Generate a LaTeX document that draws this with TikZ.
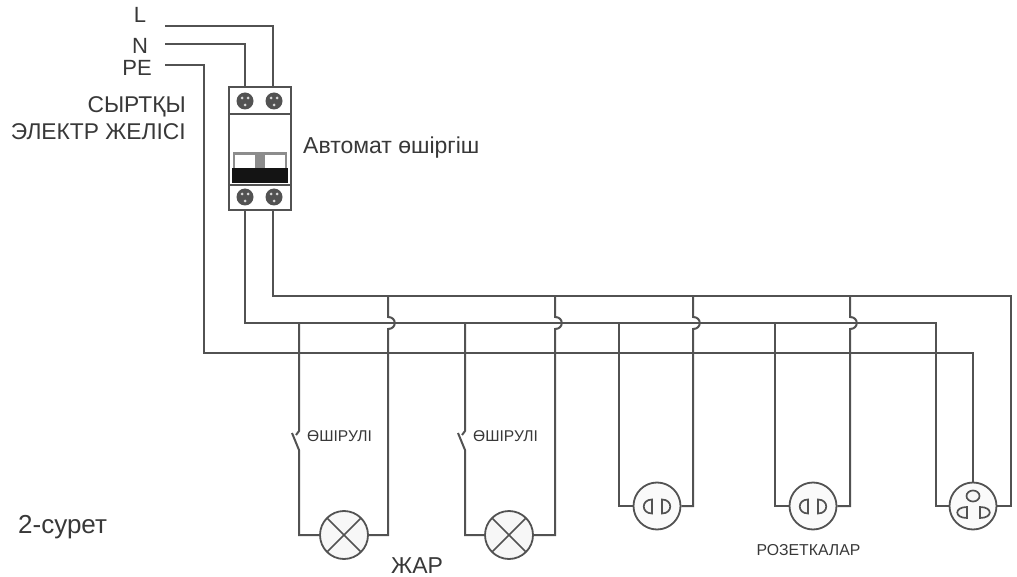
\documentclass[tikz,border=0pt]{standalone}
\usepackage{fontspec}
\setmainfont{Liberation Sans}
\begin{document}
\begin{tikzpicture}[x=1pt,y=-1pt,
  wire/.style={draw=black!68,line width=2pt,line join=miter},
  thin wire/.style={draw=black!68,line width=1.6pt},
  lbl/.style={text=black!78,inner sep=0pt,font=\fontsize{#1}{#1}\selectfont},
  lamp/.style={circle,draw=black!68,line width=1.8pt,minimum size=48pt,inner sep=0pt,fill=black!3,
    path picture={\draw[black!68,line width=1.6pt]
      ([shift={(5pt,-5pt)}]path picture bounding box.north west)--([shift={(-5pt,5pt)}]path picture bounding box.south east)
      ([shift={(-5pt,-5pt)}]path picture bounding box.north east)--([shift={(5pt,5pt)}]path picture bounding box.south west);}},
  sock/.style={circle,draw=black!68,line width=1.8pt,minimum size=47pt,inner sep=0pt,fill=black!2},
  term/.style={circle,fill=black!68,minimum size=17pt,inner sep=0pt},
  screw/.style={circle,fill=black!15,minimum size=3pt,inner sep=0pt},
  hold/.style={draw=black!68,line width=1.7pt,fill=black!3}]
\useasboundingbox (0,0) rectangle (1017,577);
% labels
\node[lbl=22] (tL) at (140,15) {L};
\node[lbl=22] (tN) at (140,46) {N};
\node[lbl=22] (tPE) at (137,68) {PE};
\node[lbl=22.8,anchor=east] (tout1) at (186,107) {СЫРТҚЫ};
\node[lbl=22.8,anchor=east] (tout2) at (186,132) {ЭЛЕКТР ЖЕЛІСІ};
\node[lbl=23,anchor=west] (tauto) at (303,148) {Автомат өшіргіш};
\node[lbl=15.6,anchor=west] (tsw1) at (307,436) {ӨШІРУЛІ};
\node[lbl=15.6,anchor=west] (tsw2) at (473,436) {ӨШІРУЛІ};
\node[lbl=26,anchor=west] (tfig) at (18,527) {2-сурет};
\node[lbl=23] (tlamp) at (417,566) {ЖАР};
\node[lbl=15.8] (tsock) at (808.5,550) {РОЗЕТКАЛАР};
% breaker
\node[draw=black!68,line width=1.8pt,minimum width=62pt,minimum height=123pt,inner sep=0pt,fill=white] (brk) at (260,148.5) {};
\coordinate (bt1) at (245,87); \coordinate (bt2) at (273,87);
\coordinate (bb1) at (245,210); \coordinate (bb2) at (273,210);
\draw[thin wire] (229,114)--(291,114) (229,185)--(291,185);
\fill[black!45] (233,152) rectangle (287,170);
\fill[white] (235,155) rectangle (255,168);
\fill[white] (265,155) rectangle (285,168);
\fill[black!92] (232,168) rectangle (288,183);
\foreach \n/\cx/\cy in {t1/245/101,t2/274/101,t3/245/197,t4/274/197}{
  \node[term] (\n) at (\cx,\cy) {};
  \node[screw] at (\cx-3,\cy-3) {};
  \node[screw] at (\cx+3,\cy-3) {};
  \node[screw] at (\cx,\cy+4) {};
}
% loads
\node[lamp] (lamp1) at (344,535) {};
\node[lamp] (lamp2) at (509,535) {};
\node[sock] (s1) at (657,506) {};
\node[sock] (s2) at (813,506) {};
\node[sock] (s3) at (973,506) {};
\foreach \c in {657,813}{
  \draw[hold] (\c-5,499.5) .. controls (\c-16,499.5) and (\c-16,513.5) .. (\c-5,513.5) -- cycle;
  \draw[hold] (\c+5,499.5) .. controls (\c+16,499.5) and (\c+16,513.5) .. (\c+5,513.5) -- cycle;
}
\draw[hold] (973,496) ellipse (6.5 and 5.5);
\draw[hold] (967,507) .. controls (954,507) and (954,518) .. (967,518) -- cycle;
\draw[hold] (980,507) .. controls (993,507) and (993,518) .. (980,518) -- cycle;
% supply wires
\coordinate (inL) at (165,26); \coordinate (inN) at (165,44); \coordinate (inPE) at (165,65);
\draw[wire] (inL) -| (bt2);
\draw[wire] (inN) -| (bt1);
\draw[wire] (inPE) -| (204,353) -| (s3.north);
% buses
\draw[wire] (bb2) |- (1011,296) |- (s3.east);
\draw[wire] (bb1) |- (936,323) |- (s3.west);
% branch 1
\draw[wire] (299,323) -- (299,431) -- (296,435);
\draw[wire] (292,433) -- (299,450) |- (lamp1.west);
\draw[wire] (lamp1.east) -| (388,329) .. controls (397,329) and (397,317) .. (388,317) -- (388,296);
% branch 2
\draw[wire] (465,323) -- (465,431) -- (462,435);
\draw[wire] (458,433) -- (465,450) |- (lamp2.west);
\draw[wire] (lamp2.east) -| (555,329) .. controls (564,329) and (564,317) .. (555,317) -- (555,296);
% branch 3
\draw[wire] (619,323) |- (s1.west);
\draw[wire] (s1.east) -| (693,329) .. controls (702,329) and (702,317) .. (693,317) -- (693,296);
% branch 4
\draw[wire] (775,323) |- (s2.west);
\draw[wire] (s2.east) -| (850,329) .. controls (859,329) and (859,317) .. (850,317) -- (850,296);
\end{tikzpicture}
\end{document}
